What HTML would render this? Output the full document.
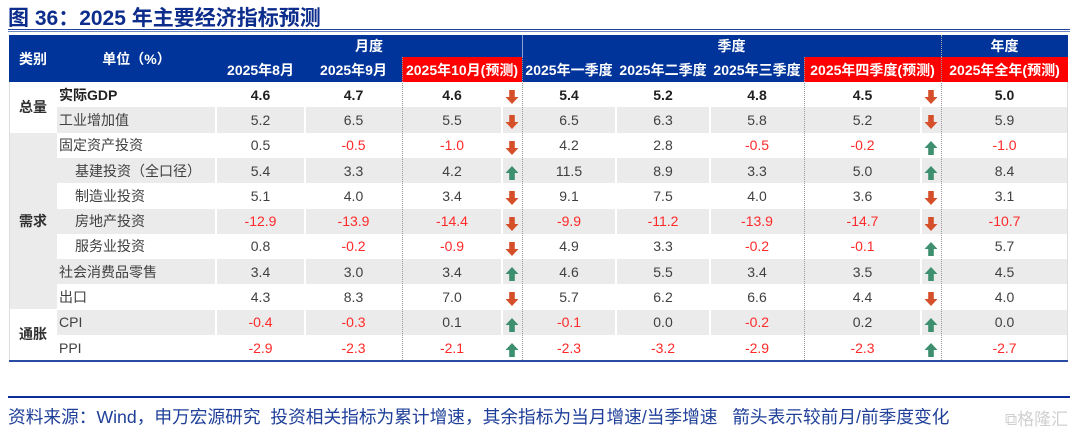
<!DOCTYPE html>
<html><head><meta charset="utf-8">
<style>
body{margin:0;width:1080px;height:435px;background:#fff;overflow:hidden;position:relative;font-family:"Liberation Sans","Noto Sans CJK SC",sans-serif;}
.a{position:absolute;box-sizing:border-box;}
.c{position:absolute;box-sizing:border-box;display:flex;align-items:center;justify-content:center;font-size:14px;color:#404040;white-space:nowrap;}
.h{color:#fff;font-weight:bold;font-size:14px;}
</style></head><body>
<div class="a" style="left:8px;top:2px;font-size:21px;font-weight:bold;color:#0d2d8c;">图 36：2025 年主要经济指标预测</div>
<div class="a" style="left:8px;top:29px;width:1062px;height:1px;background:#1f3f99;"></div>
<div class="a" style="left:8px;top:31px;width:1062px;height:1px;background:#6f86c6;"></div>
<div id="tbl" class="a" style="left:0;top:0;width:1080px;height:435px;"></div>
<div class="a" style="left:8px;top:396px;width:1062px;height:2px;background:#0d2d99;"></div>
<div class="a" style="left:8px;top:403px;font-size:17.7px;color:#1f3f99;white-space:nowrap;">资料来源：Wind，申万宏源研究&nbsp; 投资相关指标为累计增速，其余指标为当月增速/当季增速&nbsp;&nbsp; 箭头表示较前月/前季度变化</div>
<div class="a" style="left:1005px;top:405px;font-size:17px;color:#d0d0d0;">⧉格隆汇</div>
<script>
const rowLabels=["实际GDP","工业增加值","固定资产投资","基建投资（全口径）","制造业投资","房地产投资","服务业投资","社会消费品零售","出口","CPI","PPI"];
const indent=[0,0,0,1,1,1,1,0,0,0,0];
const aug=["4.6","5.2","0.5","5.4","5.1","-12.9","0.8","3.4","4.3","-0.4","-2.9"];
const sep=["4.7","6.5","-0.5","3.3","4.0","-13.9","-0.2","3.0","8.3","-0.3","-2.3"];
const oct=["4.6","5.5","-1.0","4.2","3.4","-14.4","-0.9","3.4","7.0","0.1","-2.1"];
const octArrow=["d","d","d","u","d","d","d","u","d","u","u"];
const q1=["5.4","6.5","4.2","11.5","9.1","-9.9","4.9","4.6","5.7","-0.1","-2.3"];
const q2=["5.2","6.3","2.8","8.9","7.5","-11.2","3.3","5.5","6.2","0.0","-3.2"];
const q3=["4.8","5.8","-0.5","3.3","4.0","-13.9","-0.2","3.4","6.6","-0.2","-2.9"];
const q4=["4.5","5.2","-0.2","5.0","3.6","-14.7","-0.1","3.5","4.4","0.2","-2.3"];
const q4Arrow=["d","d","u","u","d","d","u","u","d","u","u"];
const year=["5.0","5.9","-1.0","8.4","3.1","-10.7","5.7","4.5","4.0","0.0","-2.7"];
const groups=[["总量",0,2],["需求",2,9],["通胀",9,11]];
const T=document.getElementById('tbl');
const X=[9,57,216,305,402,502,522,616,710,804,921,941,1068];
const top0=82,rh=25.3;
function box(l,t,w,h,txt,cls,st,name){const d=document.createElement('div');d.className=cls;d.style.cssText=`left:${l}px;top:${t}px;width:${w}px;height:${h}px;`+(st||'');if(txt!=null)d.textContent=txt;


T.appendChild(d);return d;}
box(9,35,1059,47,null,'a','background:#00349a;','table-header');
box(402,57,120,25,null,'a','background:#ff0000;','forecast-header-oct');
box(804,57,137,25,null,'a','background:#ff0000;','forecast-header-q4');
box(941,57,127,25,null,'a','background:#ff0000;','forecast-header-year');
box(9,35,48,47,'类别','c h','','header-category');
box(57,35,159,47,'单位（%）','c h','','header-unit');
box(216,35,306,22,'月度','c h','','header-monthly');
box(522,35,419,22,'季度','c h','','header-quarterly');
box(941,35,127,22,'年度','c h','','header-annual');
const subs=[["2025年8月",216,305],["2025年9月",305,402],["2025年10月(预测)",402,522],["2025年一季度",522,616],["2025年二季度",616,710],["2025年三季度",710,804],["2025年四季度(预测)",804,941],["2025年全年(预测)",941,1068]];
subs.forEach((s,i)=>box(s[1],57,s[2]-s[1],25,s[0],'c h','','subheader-'+i));
function arrow(x,y,dir,name){const col=dir=='u'?'#3d8f6f':'#d5502a';
const svg=document.createElementNS('http://www.w3.org/2000/svg','svg');svg.setAttribute('width','14');svg.setAttribute('height','14');svg.style.cssText=`position:absolute;left:${x}px;top:${y}px;`;


const p=document.createElementNS('http://www.w3.org/2000/svg','path');
p.setAttribute('d',dir=='u'?'M7 0 L13.5 7 L9.8 7 L9.8 14 L4.2 14 L4.2 7 L0.5 7Z':'M7 14 L13.5 7 L9.8 7 L9.8 0 L4.2 0 L4.2 7 L0.5 7Z');p.setAttribute('fill',col);svg.appendChild(p);T.appendChild(svg);}
const cols=[[aug,2],[sep,3],[oct,4],[q1,6],[q2,7],[q3,8],[q4,9],[year,11]];
for(let r=0;r<11;r++){const y=top0+r*rh;const bg=r%2?'#ebebeb':'#ffffff';
 box(57,y,1011,rh,null,'a','background:'+bg+';','row-bg-'+r);
 box(57,y,159,rh,rowLabels[r],'c',`justify-content:flex-start;padding-left:${indent[r]?18:2}px;`+(r==0?'font-weight:bold;color:#202020;':''),'row-label-'+r);
 cols.forEach(([arr,ci])=>{const v=arr[r];const neg=v[0]=='-';const w=(ci==9?X[10]:ci==4?X[5]:ci==11?X[12]:X[ci+1])-X[ci];
  box(X[ci],y,w,rh,v,'c',(neg?'color:#ff2a2a;':'')+(r==0?'font-weight:bold;color:#202020;':''),'cell-'+r+'-'+ci);});
 arrow(505,y+8,octArrow[r],'arrow-oct-'+r);
 arrow(924,y+8,q4Arrow[r],'arrow-q4-'+r);
}
[216,305,616,710].forEach((x,i)=>box(x-1,82,2,278,null,'a','background:#fff;','col-sep-'+i));
box(501,82,1.5,278,null,'a','background:#fff;','col-sep-arrow1');
box(920,82,1.5,278,null,'a','background:#fff;','col-sep-arrow2');
[402,522,804,941].forEach((x,i)=>box(x,57,0,303,null,'a','border-left:1.5px dotted #999;','dash-sep-'+i));
box(522,35,0,22,null,'a','border-left:1.5px solid #8aa0d6;','hdr-sep1');
box(941,35,0,22,null,'a','border-left:1.5px dotted #aaa;','hdr-sep2');
groups.forEach((g,i)=>{const y=top0+g[1]*rh,h=(g[2]-g[1])*rh;box(9,y,48,h,g[0],'c',`font-weight:bold;color:#303030;background:${i==1?'#ebebeb':'#fff'};border-bottom:1.5px solid #fff;`,'group-'+i);});
box(9,82,0,278,null,'a','border-left:1px solid #ddd;','left-border');
box(1067,82,0,278,null,'a','border-left:1px solid #ddd;','right-border');
box(9,360,1059,2,null,'a','background:#2a4ca3;','table-bottom-rule');
</script>
</body></html>
